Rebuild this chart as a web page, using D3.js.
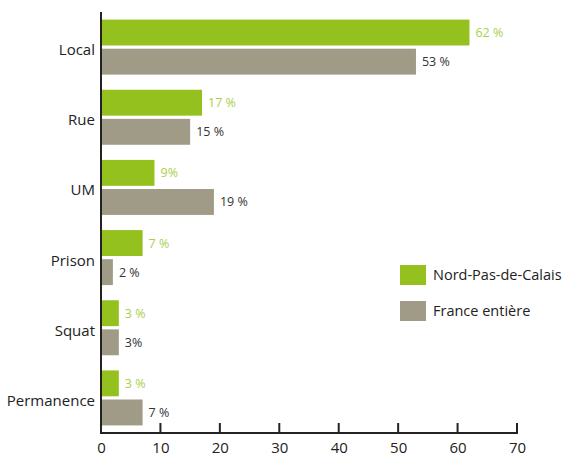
<!DOCTYPE html>
<html>
<head>
<meta charset="utf-8">
<script src="https://cdn.jsdelivr.net/npm/d3@7"></script>
<style>
  html, body { margin: 0; padding: 0; background: #fff; }
  svg { display: block; font-family: "Open Sans", "Noto Sans", sans-serif; }
</style>
</head>
<body>
<svg id="chart" width="567" height="457"></svg>
<script>
const categories = ["Local", "Rue", "UM", "Prison", "Squat", "Permanence"];
const seriesNames = ["Nord-Pas-de-Calais", "France entière"];
const nordValues = [62, 17, 9, 7, 3, 3];
const franceValues = [53, 15, 19, 2, 3, 7];
const nordLabels = ["62 %", "17 %", "9%", "7 %", "3 %", "3 %"];
const franceLabels = ["53 %", "15 %", "19 %", "2 %", "3%", "7 %"];
const xTicks = [0, 10, 20, 30, 40, 50, 60, 70];

const colors = ["#95c11f", "#9f9b87"];
const labelColors = ["#a9cf4a", "#333333"];

const svg = d3.select("#chart");
const x = d3.scaleLinear().domain([0, 70]).range([101, 517]);
const y = d3.scaleBand().domain(categories).range([12, 433]).paddingInner(0).paddingOuter(0);
const sub = d3.scaleBand().domain([0, 1]).range([-27.5, 27.5]).paddingInner(0.11);

const series = [
  { values: nordValues, labels: nordLabels },
  { values: franceValues, labels: franceLabels }
];

series.forEach((s, si) => {
  const g = svg.append("g");
  g.selectAll("rect").data(categories).enter().append("rect")
    .attr("x", x(0))
    .attr("y", c => y(c) + y.bandwidth() / 2 + sub(si))
    .attr("width", (c, i) => x(s.values[i]) - x(0))
    .attr("height", sub.bandwidth())
    .attr("fill", colors[si]);
  g.selectAll("text").data(categories).enter().append("text")
    .attr("x", (c, i) => x(s.values[i]) + 6)
    .attr("y", c => y(c) + y.bandwidth() / 2 + sub(si) + sub.bandwidth() / 2 + 4.5)
    .attr("font-size", 12.5)
    .attr("fill", labelColors[si])
    .text((c, i) => s.labels[i]);
});

// category labels
svg.append("g").selectAll("text").data(categories).enter().append("text")
  .attr("x", 95)
  .attr("y", c => y(c) + y.bandwidth() / 2 + 8)
  .attr("text-anchor", "end")
  .attr("font-size", 15)
  .attr("fill", "#222")
  .text(c => c);

// y axis line
svg.append("line")
  .attr("x1", x(0)).attr("x2", x(0))
  .attr("y1", 12).attr("y2", 434)
  .attr("stroke", "#222").attr("stroke-width", 2);

// x axis
const xAxis = d3.axisBottom(x).tickValues(xTicks).tickSize(0).tickFormat(d3.format("d"));
const ax = svg.append("g").attr("transform", "translate(0,433)").call(xAxis);
ax.select(".domain").remove();
ax.selectAll("text").attr("font-size", 15).attr("fill", "#222").attr("dy", null).attr("y", 20)
  .attr("font-family", "Open Sans, Noto Sans, sans-serif");
svg.append("line")
  .attr("x1", x(0) - 1).attr("x2", x(70) + 1)
  .attr("y1", 433).attr("y2", 433)
  .attr("stroke", "#222").attr("stroke-width", 2);
svg.append("g").selectAll("line").data(xTicks.slice(1)).enter().append("line")
  .attr("x1", d => x(d)).attr("x2", d => x(d))
  .attr("y1", 433).attr("y2", 423)
  .attr("stroke", "#222").attr("stroke-width", 2);

// legend
const legend = svg.append("g");
seriesNames.forEach((name, i) => {
  legend.append("rect")
    .attr("x", 400).attr("y", 265 + i * 36)
    .attr("width", 26).attr("height", 20)
    .attr("fill", colors[i]);
  legend.append("text")
    .attr("x", 433).attr("y", 280 + i * 36)
    .attr("font-size", 14.5).attr("fill", "#222")
    .text(name);
});
</script>
</body>
</html>
